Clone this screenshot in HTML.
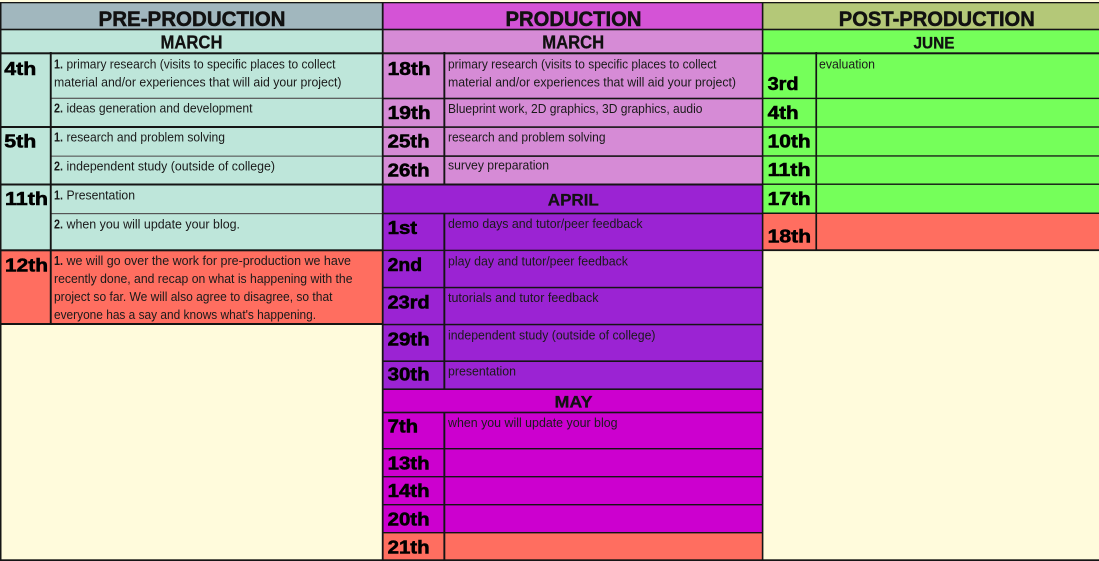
<!DOCTYPE html>
<html><head><meta charset="utf-8"><style>
html,body{margin:0;padding:0;background:#fffbdc;}
svg{display:block;}
text{font-family:"Liberation Sans",Arial,sans-serif;}
.d{font-size:12.5px;fill:#1a1a1a;}
.b{font-size:12.5px;fill:#1a1a1a;font-weight:bold;}
.dt{font-size:18px;font-weight:bold;fill:#000;stroke:#000;stroke-width:0.55;}
.h{font-size:21px;font-weight:bold;fill:#111;stroke:#111;stroke-width:0.5;}
.m{font-size:18.5px;font-weight:bold;fill:#111;stroke:#111;stroke-width:0.3;}
</style></head><body>
<svg width="1099" height="561" viewBox="0 0 1099 561" xmlns="http://www.w3.org/2000/svg">
<rect x="0" y="0" width="1099" height="561" fill="#fffbdc"/>
<!-- Pre-production fills -->
<rect x="0" y="3" width="382" height="26" fill="#a1b7be"/>
<rect x="0" y="29" width="382" height="221" fill="#bee6da"/>
<rect x="0" y="250" width="382" height="74" fill="#ff6e60"/>
<!-- Production fills -->
<rect x="383" y="3" width="380" height="26" fill="#d453d6"/>
<rect x="383" y="29" width="380" height="156" fill="#d68bd6"/>
<rect x="383" y="185" width="380" height="204" fill="#9b23d3"/>
<rect x="383" y="389" width="380" height="144" fill="#cc00cf"/>
<rect x="383" y="533" width="380" height="28" fill="#ff6e60"/>
<!-- Post-production fills -->
<rect x="763" y="3" width="336" height="26" fill="#b4c878"/>
<rect x="763" y="29" width="336" height="184" fill="#75ff5a"/>
<rect x="763" y="213" width="336" height="37" fill="#ff6e60"/>

<!-- horizontal lines -->
<g fill="#151515">
<rect x="0" y="2" width="1099" height="1.3"/>
<rect x="0" y="28.7" width="1099" height="1.6"/>
<rect x="0" y="52.3" width="1099" height="2"/>
<!-- pre -->
<rect x="0" y="126" width="382" height="2"/>
<rect x="0" y="183.5" width="382" height="2"/>
<rect x="0" y="249.3" width="382" height="2"/>
<rect x="0" y="323" width="382" height="2"/>
<!-- prod -->
<rect x="383" y="97.7" width="380" height="1.6"/>
<rect x="383" y="126.3" width="380" height="1.6"/>
<rect x="383" y="155.3" width="380" height="1.6"/>
<rect x="383" y="183.5" width="380" height="2"/>
<rect x="383" y="212.7" width="380" height="1.6"/>
<rect x="383" y="249.7" width="380" height="1.4"/>
<rect x="383" y="286.8" width="380" height="1.5"/>
<rect x="383" y="323.8" width="380" height="1.5"/>
<rect x="383" y="360.4" width="380" height="1.6"/>
<rect x="383" y="388.4" width="380" height="1.6"/>
<rect x="383" y="411.7" width="380" height="1.6"/>
<rect x="383" y="448" width="380" height="1.4"/>
<rect x="383" y="476" width="380" height="1.4"/>
<rect x="383" y="504" width="380" height="1.4"/>
<rect x="383" y="532" width="380" height="1.4"/>
<rect x="0" y="559.3" width="1099" height="1.7"/>
<!-- post -->
<rect x="763" y="97.7" width="336" height="1.4"/>
<rect x="763" y="126.3" width="336" height="1.4"/>
<rect x="763" y="155.3" width="336" height="1.3"/>
<rect x="763" y="183.5" width="336" height="1.4"/>
<rect x="763" y="212.5" width="336" height="1.5"/>
<rect x="763" y="249.3" width="336" height="1.8"/>
</g>
<g fill="#555">
<rect x="51" y="97.7" width="331" height="1.2"/>
<rect x="51" y="155.6" width="331" height="1.1"/>
<rect x="51" y="213" width="331" height="1.2"/>
</g>
<!-- vertical lines -->
<g fill="#151515">
<rect x="0" y="2" width="1.5" height="559"/>
<rect x="381.8" y="2" width="1.8" height="559"/>
<rect x="761.8" y="2" width="1.6" height="559"/>
<rect x="49.8" y="52" width="1.9" height="273"/>
<rect x="443.4" y="52" width="1.9" height="133"/>
<rect x="443.4" y="213" width="1.9" height="176"/>
<rect x="443.4" y="412" width="1.9" height="149"/>
<rect x="815.4" y="52" width="1.7" height="199"/>
</g>

<!-- headers -->
<text class="h" x="98.5" y="26" textLength="187" lengthAdjust="spacingAndGlyphs">PRE-PRODUCTION</text>
<text class="h" x="505.5" y="26" textLength="136" lengthAdjust="spacingAndGlyphs">PRODUCTION</text>
<text class="h" x="838.8" y="26" textLength="196" lengthAdjust="spacingAndGlyphs">POST-PRODUCTION</text>
<text class="m" x="160.5" y="48.3" textLength="62" lengthAdjust="spacingAndGlyphs">MARCH</text>
<text class="m" x="542.2" y="48.3" textLength="62" lengthAdjust="spacingAndGlyphs">MARCH</text>
<text class="m" x="913.5" y="48.3" textLength="41" lengthAdjust="spacingAndGlyphs" style="font-size:17px">JUNE</text>
<text class="m" x="547.8" y="205.7" textLength="51" lengthAdjust="spacingAndGlyphs" style="font-size:17px">APRIL</text>
<text class="m" x="554.5" y="407.7" textLength="38" lengthAdjust="spacingAndGlyphs" style="font-size:16.5px">MAY</text>

<!-- dates pre -->
<text class="dt" x="4.3" y="75" textLength="32" lengthAdjust="spacingAndGlyphs">4th</text>
<text class="dt" x="4.3" y="147.7" textLength="32" lengthAdjust="spacingAndGlyphs">5th</text>
<text class="dt" x="5" y="205" textLength="43" lengthAdjust="spacingAndGlyphs">11th</text>
<text class="dt" x="5" y="271.7" textLength="43" lengthAdjust="spacingAndGlyphs">12th</text>
<!-- dates prod -->
<text class="dt" x="387.6" y="75" textLength="43" lengthAdjust="spacingAndGlyphs">18th</text>
<text class="dt" x="387.6" y="119" textLength="43" lengthAdjust="spacingAndGlyphs">19th</text>
<text class="dt" x="387.6" y="147.7" textLength="42" lengthAdjust="spacingAndGlyphs">25th</text>
<text class="dt" x="387.6" y="176.7" textLength="42" lengthAdjust="spacingAndGlyphs">26th</text>
<text class="dt" x="387.6" y="234" textLength="29.5" lengthAdjust="spacingAndGlyphs">1st</text>
<text class="dt" x="387.6" y="271" textLength="34.5" lengthAdjust="spacingAndGlyphs">2nd</text>
<text class="dt" x="387.6" y="308.3" textLength="42" lengthAdjust="spacingAndGlyphs">23rd</text>
<text class="dt" x="387.6" y="345.3" textLength="42" lengthAdjust="spacingAndGlyphs">29th</text>
<text class="dt" x="387.6" y="380.7" textLength="42" lengthAdjust="spacingAndGlyphs">30th</text>
<text class="dt" x="387.6" y="432.7" textLength="30.5" lengthAdjust="spacingAndGlyphs">7th</text>
<text class="dt" x="387.6" y="469.3" textLength="42" lengthAdjust="spacingAndGlyphs">13th</text>
<text class="dt" x="387.6" y="497" textLength="42" lengthAdjust="spacingAndGlyphs">14th</text>
<text class="dt" x="387.6" y="525.3" textLength="42" lengthAdjust="spacingAndGlyphs">20th</text>
<text class="dt" x="387.6" y="553.7" textLength="42" lengthAdjust="spacingAndGlyphs">21th</text>
<!-- dates post -->
<text class="dt" x="767.6" y="90" textLength="31" lengthAdjust="spacingAndGlyphs">3rd</text>
<text class="dt" x="767.6" y="119" textLength="31" lengthAdjust="spacingAndGlyphs">4th</text>
<text class="dt" x="767.6" y="147.7" textLength="43" lengthAdjust="spacingAndGlyphs">10th</text>
<text class="dt" x="767.6" y="176" textLength="43" lengthAdjust="spacingAndGlyphs">11th</text>
<text class="dt" x="767.6" y="205" textLength="43" lengthAdjust="spacingAndGlyphs">17th</text>
<text class="dt" x="767.6" y="242.3" textLength="43.5" lengthAdjust="spacingAndGlyphs">18th</text>

<!-- pre descriptions -->
<text class="b" x="54" y="68.5" textLength="9" lengthAdjust="spacingAndGlyphs">1.</text>
<text class="d" x="66.5" y="68.5" textLength="269" lengthAdjust="spacingAndGlyphs">primary research (visits to specific places to collect</text>
<text class="d" x="54" y="86.5" textLength="287.5" lengthAdjust="spacingAndGlyphs">material and/or experiences that will aid your project)</text>
<text class="b" x="54" y="112.5" textLength="9" lengthAdjust="spacingAndGlyphs">2.</text>
<text class="d" x="66.5" y="112.5" textLength="186" lengthAdjust="spacingAndGlyphs">ideas generation and development</text>
<text class="b" x="54" y="141.3" textLength="9" lengthAdjust="spacingAndGlyphs">1.</text>
<text class="d" x="66.5" y="141.3" textLength="158.5" lengthAdjust="spacingAndGlyphs">research and problem solving</text>
<text class="b" x="54" y="170.3" textLength="9" lengthAdjust="spacingAndGlyphs">2.</text>
<text class="d" x="66.5" y="170.3" textLength="208.5" lengthAdjust="spacingAndGlyphs">independent study (outside of college)</text>
<text class="b" x="54" y="199.5" textLength="9" lengthAdjust="spacingAndGlyphs">1.</text>
<text class="d" x="66.5" y="199.5" textLength="68.5" lengthAdjust="spacingAndGlyphs">Presentation</text>
<text class="b" x="54" y="228.5" textLength="9" lengthAdjust="spacingAndGlyphs">2.</text>
<text class="d" x="66.5" y="228.5" textLength="173.5" lengthAdjust="spacingAndGlyphs">when you will update your blog.</text>
<text class="b" x="54" y="265" textLength="9" lengthAdjust="spacingAndGlyphs">1.</text>
<text class="d" x="66.5" y="265" textLength="284.5" lengthAdjust="spacingAndGlyphs">we will go over the work for pre-production we have</text>
<text class="d" x="54" y="283" textLength="298.5" lengthAdjust="spacingAndGlyphs">recently done, and recap on what is happening with the</text>
<text class="d" x="54" y="301" textLength="278.5" lengthAdjust="spacingAndGlyphs">project so far. We will also agree to disagree, so that</text>
<text class="d" x="54" y="319" textLength="262" lengthAdjust="spacingAndGlyphs">everyone has a say and knows what's happening.</text>

<!-- prod descriptions -->
<text class="d" x="448" y="68.7" textLength="268.5" lengthAdjust="spacingAndGlyphs">primary research (visits to specific places to collect</text>
<text class="d" x="448" y="86.5" textLength="288" lengthAdjust="spacingAndGlyphs">material and/or experiences that will aid your project)</text>
<text class="d" x="448" y="113" textLength="254.5" lengthAdjust="spacingAndGlyphs">Blueprint work, 2D graphics, 3D graphics, audio</text>
<text class="d" x="448" y="141.3" textLength="157.5" lengthAdjust="spacingAndGlyphs">research and problem solving</text>
<text class="d" x="448" y="169.7" textLength="101" lengthAdjust="spacingAndGlyphs">survey preparation</text>
<text class="d" x="448" y="228" textLength="194.5" lengthAdjust="spacingAndGlyphs">demo days and tutor/peer feedback</text>
<text class="d" x="448" y="265.3" textLength="180" lengthAdjust="spacingAndGlyphs">play day and tutor/peer feedback</text>
<text class="d" x="448" y="302" textLength="150.5" lengthAdjust="spacingAndGlyphs">tutorials and tutor feedback</text>
<text class="d" x="448" y="339.3" textLength="207.5" lengthAdjust="spacingAndGlyphs">independent study (outside of college)</text>
<text class="d" x="448" y="375.3" textLength="68" lengthAdjust="spacingAndGlyphs">presentation</text>
<text class="d" x="448" y="427" textLength="169.5" lengthAdjust="spacingAndGlyphs">when you will update your blog</text>

<!-- post descriptions -->
<text class="d" x="819" y="68.7" textLength="56" lengthAdjust="spacingAndGlyphs">evaluation</text>
</svg>
</body></html>
